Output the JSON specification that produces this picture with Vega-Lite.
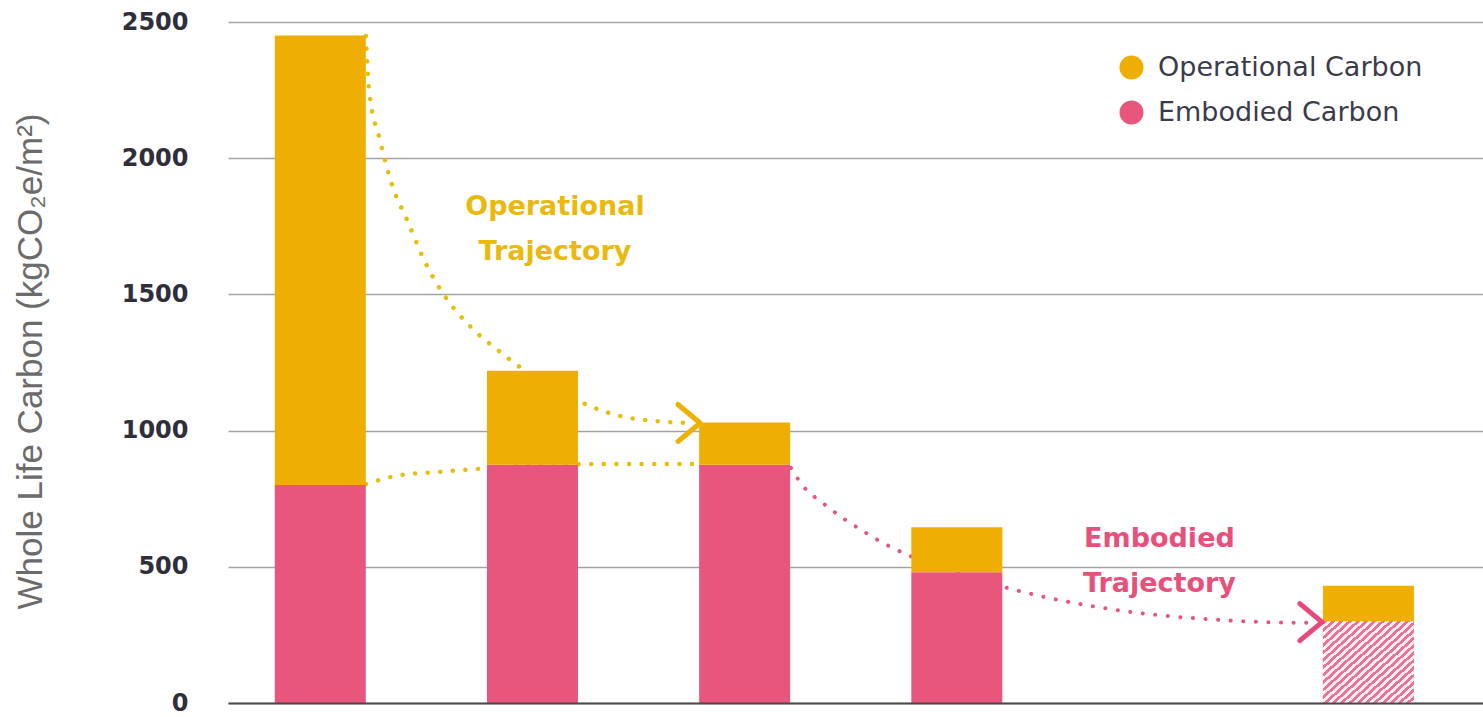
{
  "$schema": "https://vega.github.io/schema/vega-lite/v6.json",
  "width": 1255,
  "height": 681,
  "autosize": {"type": "none"},
  "padding": {"left": 228, "top": 22, "right": 0, "bottom": 14},
  "background": "white",
  "config": {"view": {"stroke": null}, "font": "DejaVu Sans"},
  "datasets": {
    "bars": [
      {"position": 1, "component": "Embodied Carbon", "carbon": 800, "projected": false},
      {"position": 1, "component": "Operational Carbon", "carbon": 1650, "projected": false},
      {"position": 2, "component": "Embodied Carbon", "carbon": 875, "projected": false},
      {"position": 2, "component": "Operational Carbon", "carbon": 345, "projected": false},
      {"position": 3, "component": "Embodied Carbon", "carbon": 875, "projected": false},
      {"position": 3, "component": "Operational Carbon", "carbon": 155, "projected": false},
      {"position": 4, "component": "Embodied Carbon", "carbon": 480, "projected": false},
      {"position": 4, "component": "Operational Carbon", "carbon": 165, "projected": false},
      {"position": 5.94, "component": "Embodied Carbon", "carbon": 300, "projected": true},
      {"position": 5.94, "component": "Operational Carbon", "carbon": 130, "projected": true}
    ],
    "trajectories": [
      {"series": "operational", "position": 1.215, "carbon": 2449},
      {"series": "operational", "position": 1.230, "carbon": 2250},
      {"series": "operational", "position": 1.281, "carbon": 2067},
      {"series": "operational", "position": 1.338, "carbon": 1902},
      {"series": "operational", "position": 1.409, "carbon": 1773},
      {"series": "operational", "position": 1.498, "carbon": 1612},
      {"series": "operational", "position": 1.583, "carbon": 1498},
      {"series": "operational", "position": 1.705, "carbon": 1384},
      {"series": "operational", "position": 1.847, "carbon": 1289},
      {"series": "operational", "position": 1.988, "carbon": 1208},
      {"series": "operational", "position": 2.130, "carbon": 1145},
      {"series": "operational", "position": 2.271, "carbon": 1090},
      {"series": "operational", "position": 2.412, "carbon": 1054},
      {"series": "operational", "position": 2.577, "carbon": 1035},
      {"series": "operational", "position": 2.750, "carbon": 1028},
      {"series": "embodied-hold", "position": 1.215, "carbon": 804},
      {"series": "embodied-hold", "position": 1.380, "carbon": 837},
      {"series": "embodied-hold", "position": 1.555, "carbon": 848},
      {"series": "embodied-hold", "position": 1.734, "carbon": 859},
      {"series": "embodied-hold", "position": 2.035, "carbon": 874},
      {"series": "embodied-hold", "position": 2.318, "carbon": 877},
      {"series": "embodied-hold", "position": 2.770, "carbon": 877},
      {"series": "embodied", "position": 3.218, "carbon": 863},
      {"series": "embodied", "position": 3.279, "carbon": 793},
      {"series": "embodied", "position": 3.369, "carbon": 734},
      {"series": "embodied", "position": 3.463, "carbon": 679},
      {"series": "embodied", "position": 3.558, "carbon": 631},
      {"series": "embodied", "position": 3.661, "carbon": 584},
      {"series": "embodied", "position": 3.770, "carbon": 543},
      {"series": "embodied", "position": 4.015, "carbon": 474},
      {"series": "embodied", "position": 4.260, "carbon": 418},
      {"series": "embodied", "position": 4.439, "carbon": 385},
      {"series": "embodied", "position": 4.665, "carbon": 352},
      {"series": "embodied", "position": 4.896, "carbon": 327},
      {"series": "embodied", "position": 5.179, "carbon": 308},
      {"series": "embodied", "position": 5.461, "carbon": 297},
      {"series": "embodied", "position": 5.690, "carbon": 294}
    ],
    "arrows": [
      {"series": "operational", "position": 2.738, "carbon": 1028},
      {"series": "embodied", "position": 5.669, "carbon": 297}
    ],
    "labels": [
      {"series": "operational", "text": "Operational", "position": 2.106, "carbon": 1791},
      {"series": "operational", "text": "Trajectory", "position": 2.106, "carbon": 1626},
      {"series": "embodied", "text": "Embodied", "position": 4.955, "carbon": 573},
      {"series": "embodied", "text": "Trajectory", "position": 4.955, "carbon": 407}
    ]
  },
  "encoding": {
    "x": {
      "field": "position",
      "type": "quantitative",
      "scale": {"domain": [0.565, 6.48], "nice": false, "zero": false, "padding": 0},
      "axis": {
        "title": null,
        "labels": false,
        "ticks": false,
        "grid": false,
        "domainColor": "#4a4a4a",
        "domainWidth": 2,
        "zindex": 1
      }
    },
    "y": {
      "field": "carbon",
      "type": "quantitative",
      "scale": {"domain": [0, 2500], "nice": false},
      "axis": {
        "title": "Whole Life Carbon (kgCO₂e/m²)",
        "values": [0, 500, 1000, 1500, 2000, 2500],
        "format": "d",
        "domain": false,
        "ticks": false,
        "grid": true,
        "gridColor": "#a3a3a3",
        "gridWidth": 1.5,
        "labelFont": "DejaVu Sans",
        "labelFontWeight": "bold",
        "labelFontSize": 24,
        "labelColor": "#2f2f3c",
        "labelPadding": 40,
        "titleFont": "Liberation Sans",
        "titleFontSize": 35,
        "titleFontWeight": "normal",
        "titleColor": "#6b6b6b",
        "titleX": -187,
        "titleY": 339,
        "titleAngle": -90,
        "titleAlign": "center",
        "titleBaseline": "alphabetic"
      }
    }
  },
  "layer": [
    {
      "data": {"name": "trajectories"},
      "transform": [{"filter": "datum.series === 'operational'"}],
      "mark": {"type": "line", "interpolate": "monotone", "stroke": "#E8BE0A", "strokeWidth": 4.5, "strokeDash": [0.1, 12.5], "strokeCap": "round"}
    },
    {
      "data": {"name": "trajectories"},
      "transform": [{"filter": "datum.series === 'embodied-hold'"}],
      "mark": {"type": "line", "interpolate": "monotone", "stroke": "#E8BE0A", "strokeWidth": 4.5, "strokeDash": [0.1, 12.5], "strokeCap": "round"}
    },
    {
      "data": {"name": "trajectories"},
      "transform": [{"filter": "datum.series === 'embodied'"}],
      "mark": {"type": "line", "interpolate": "monotone", "stroke": "#E8557C", "strokeWidth": 4, "strokeDash": [0.1, 12.5], "strokeCap": "round"}
    },
    {
      "data": {"name": "bars"},
      "mark": {"type": "bar", "width": 91},
      "encoding": {
        "color": {
          "field": "component",
          "type": "nominal",
          "scale": {"domain": ["Operational Carbon", "Embodied Carbon"], "range": ["#EFAE04", "#E8567D"]},
          "legend": {
            "title": null,
            "orient": "none",
            "legendX": 890,
            "legendY": 32,
            "padding": 0,
            "symbolType": "circle",
            "symbolSize": 576,
            "symbolStrokeWidth": 0,
            "symbolOpacity": 1,
            "labelFont": "DejaVu Sans",
            "labelFontSize": 27,
            "labelColor": "#3b3b4c",
            "labelOffset": 13,
            "labelLimit": 0,
            "rowPadding": 17
          }
        },
        "order": {"field": "component", "sort": "ascending"}
      }
    },
    {
      "data": {"name": "bars"},
      "transform": [{"filter": "datum.projected && datum.component === 'Embodied Carbon'"}],
      "mark": {
        "type": "bar",
        "width": 91,
        "fill": {
          "gradient": "linear",
          "x1": 0, "y1": 0, "x2": 1, "y2": 1,
          "stops": [
            {"offset": 0, "color": "#EE7294"},
            {"offset": 0.0227, "color": "#EE7294"}, {"offset": 0.0227, "color": "#FDF0F3"},
            {"offset": 0.0455, "color": "#FDF0F3"}, {"offset": 0.0455, "color": "#EE7294"},
            {"offset": 0.0682, "color": "#EE7294"}, {"offset": 0.0682, "color": "#FDF0F3"},
            {"offset": 0.0909, "color": "#FDF0F3"}, {"offset": 0.0909, "color": "#EE7294"},
            {"offset": 0.1136, "color": "#EE7294"}, {"offset": 0.1136, "color": "#FDF0F3"},
            {"offset": 0.1364, "color": "#FDF0F3"}, {"offset": 0.1364, "color": "#EE7294"},
            {"offset": 0.1591, "color": "#EE7294"}, {"offset": 0.1591, "color": "#FDF0F3"},
            {"offset": 0.1818, "color": "#FDF0F3"}, {"offset": 0.1818, "color": "#EE7294"},
            {"offset": 0.2045, "color": "#EE7294"}, {"offset": 0.2045, "color": "#FDF0F3"},
            {"offset": 0.2273, "color": "#FDF0F3"}, {"offset": 0.2273, "color": "#EE7294"},
            {"offset": 0.25, "color": "#EE7294"}, {"offset": 0.25, "color": "#FDF0F3"},
            {"offset": 0.2727, "color": "#FDF0F3"}, {"offset": 0.2727, "color": "#EE7294"},
            {"offset": 0.2955, "color": "#EE7294"}, {"offset": 0.2955, "color": "#FDF0F3"},
            {"offset": 0.3182, "color": "#FDF0F3"}, {"offset": 0.3182, "color": "#EE7294"},
            {"offset": 0.3409, "color": "#EE7294"}, {"offset": 0.3409, "color": "#FDF0F3"},
            {"offset": 0.3636, "color": "#FDF0F3"}, {"offset": 0.3636, "color": "#EE7294"},
            {"offset": 0.3864, "color": "#EE7294"}, {"offset": 0.3864, "color": "#FDF0F3"},
            {"offset": 0.4091, "color": "#FDF0F3"}, {"offset": 0.4091, "color": "#EE7294"},
            {"offset": 0.4318, "color": "#EE7294"}, {"offset": 0.4318, "color": "#FDF0F3"},
            {"offset": 0.4545, "color": "#FDF0F3"}, {"offset": 0.4545, "color": "#EE7294"},
            {"offset": 0.4773, "color": "#EE7294"}, {"offset": 0.4773, "color": "#FDF0F3"},
            {"offset": 0.5, "color": "#FDF0F3"}, {"offset": 0.5, "color": "#EE7294"},
            {"offset": 0.5227, "color": "#EE7294"}, {"offset": 0.5227, "color": "#FDF0F3"},
            {"offset": 0.5455, "color": "#FDF0F3"}, {"offset": 0.5455, "color": "#EE7294"},
            {"offset": 0.5682, "color": "#EE7294"}, {"offset": 0.5682, "color": "#FDF0F3"},
            {"offset": 0.5909, "color": "#FDF0F3"}, {"offset": 0.5909, "color": "#EE7294"},
            {"offset": 0.6136, "color": "#EE7294"}, {"offset": 0.6136, "color": "#FDF0F3"},
            {"offset": 0.6364, "color": "#FDF0F3"}, {"offset": 0.6364, "color": "#EE7294"},
            {"offset": 0.6591, "color": "#EE7294"}, {"offset": 0.6591, "color": "#FDF0F3"},
            {"offset": 0.6818, "color": "#FDF0F3"}, {"offset": 0.6818, "color": "#EE7294"},
            {"offset": 0.7045, "color": "#EE7294"}, {"offset": 0.7045, "color": "#FDF0F3"},
            {"offset": 0.7273, "color": "#FDF0F3"}, {"offset": 0.7273, "color": "#EE7294"},
            {"offset": 0.75, "color": "#EE7294"}, {"offset": 0.75, "color": "#FDF0F3"},
            {"offset": 0.7727, "color": "#FDF0F3"}, {"offset": 0.7727, "color": "#EE7294"},
            {"offset": 0.7955, "color": "#EE7294"}, {"offset": 0.7955, "color": "#FDF0F3"},
            {"offset": 0.8182, "color": "#FDF0F3"}, {"offset": 0.8182, "color": "#EE7294"},
            {"offset": 0.8409, "color": "#EE7294"}, {"offset": 0.8409, "color": "#FDF0F3"},
            {"offset": 0.8636, "color": "#FDF0F3"}, {"offset": 0.8636, "color": "#EE7294"},
            {"offset": 0.8864, "color": "#EE7294"}, {"offset": 0.8864, "color": "#FDF0F3"},
            {"offset": 0.9091, "color": "#FDF0F3"}, {"offset": 0.9091, "color": "#EE7294"},
            {"offset": 0.9318, "color": "#EE7294"}, {"offset": 0.9318, "color": "#FDF0F3"},
            {"offset": 0.9545, "color": "#FDF0F3"}, {"offset": 0.9545, "color": "#EE7294"},
            {"offset": 0.9773, "color": "#EE7294"}, {"offset": 0.9773, "color": "#FDF0F3"},
            {"offset": 1, "color": "#FDF0F3"}
          ]
        }
      }
    },
    {
      "data": {"name": "arrows"},
      "mark": {
        "type": "point",
        "shape": "M-0.6,-1L0.6,0L-0.6,1",
        "size": 1369,
        "filled": false,
        "opacity": 1,
        "strokeWidth": 5,
        "strokeCap": "round",
        "strokeJoin": "round"
      },
      "encoding": {
        "stroke": {
          "condition": {"test": "datum.series === 'operational'", "value": "#EFB000"},
          "value": "#E8487A"
        }
      }
    },
    {
      "data": {"name": "labels"},
      "mark": {
        "type": "text",
        "font": "DejaVu Sans",
        "fontWeight": "bold",
        "fontSize": 27,
        "align": "center",
        "baseline": "alphabetic"
      },
      "encoding": {
        "text": {"field": "text"},
        "color": {
          "condition": {"test": "datum.series === 'operational'", "value": "#EAB90C"},
          "value": "#E8507B"
        }
      }
    }
  ]
}
